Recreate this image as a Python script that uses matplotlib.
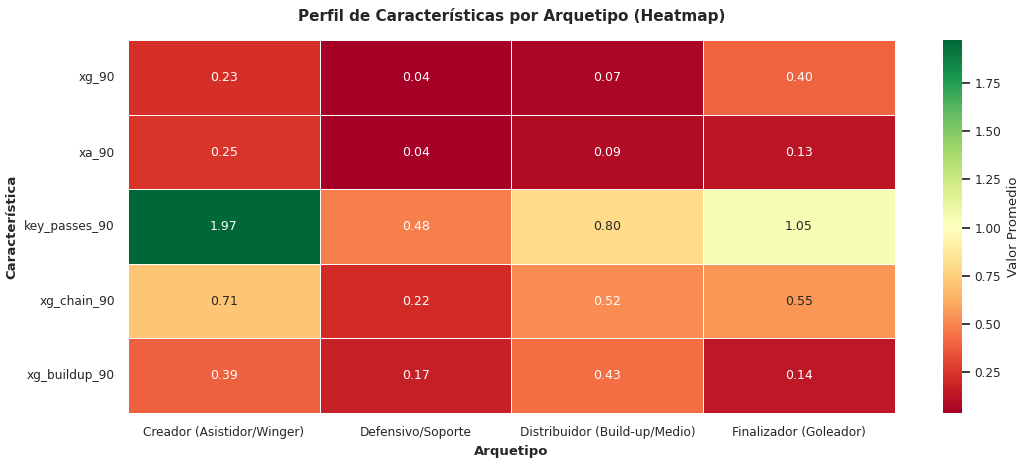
import matplotlib
matplotlib.use('Agg')
import matplotlib.pyplot as plt
import seaborn as sns
import numpy as np
import pandas as pd

features = ['xg_90', 'xa_90', 'key_passes_90', 'xg_chain_90', 'xg_buildup_90']
archetypes = ['Creador (Asistidor/Winger)', 'Defensivo/Soporte',
              'Distribuidor (Build-up/Medio)', 'Finalizador (Goleador)']

creador = [0.23, 0.25, 1.97, 0.71, 0.39]
defensivo = [0.04, 0.04, 0.48, 0.22, 0.17]
distribuidor = [0.07, 0.09, 0.80, 0.52, 0.43]
finalizador = [0.40, 0.13, 1.05, 0.55, 0.14]

sns.set_theme(style='whitegrid')

df = pd.DataFrame({archetypes[0]: creador, archetypes[1]: defensivo,
                   archetypes[2]: distribuidor, archetypes[3]: finalizador},
                  index=features)

fig = plt.figure(figsize=(10.24, 4.62), dpi=100)
ax = fig.add_axes([0.125, 0.106, 0.749, 0.807])
cax = fig.add_axes([0.921, 0.106, 0.018, 0.807])

sns.heatmap(df, annot=True, fmt='.2f', cmap='RdYlGn', linewidths=0.5, linecolor='white',
            ax=ax, cbar_ax=cax, cbar_kws={'label': 'Valor Promedio'},
            annot_kws={'size': 9})

ax.set_title('Perfil de Características por Arquetipo (Heatmap)', fontsize=11,
             fontweight='bold', pad=14)
ax.set_xlabel('Arquetipo', fontsize=9.5, fontweight='bold')
ax.set_ylabel('Característica', fontsize=9.5, fontweight='bold')
ax.tick_params(axis='x', labelsize=8.7, rotation=0)
ax.tick_params(axis='y', labelsize=8.7, rotation=0)
cax.tick_params(labelsize=8.7)
cax.yaxis.label.set_size(9.5)

fig.savefig('out.png', dpi=100)
